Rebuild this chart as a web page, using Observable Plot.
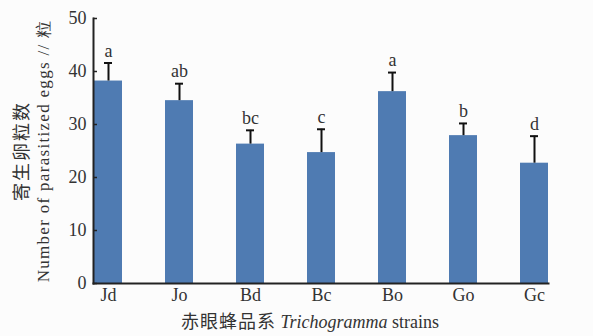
<!DOCTYPE html>
<html>
<head>
<meta charset="utf-8">
<script src="https://cdn.jsdelivr.net/npm/d3@7"></script>
<script src="https://cdn.jsdelivr.net/npm/@observablehq/plot@0.6"></script>
<style>
  body { margin: 0; background: #fcfcfc; }
  #caption {
    width: 593px; box-sizing: border-box; padding-left: 27px;
    text-align: center; line-height: 31px; height: 31px;
    font-family: "Liberation Serif", "Noto Sans CJK SC", serif;
    font-size: 18px; color: #333;
  }
  #caption .cn { font-family: "Noto Sans CJK SC"; font-size: 18px; letter-spacing: 1px; }
</style>
</head>
<body>
<div id="chart"></div>
<div id="caption"><span class="cn">赤眼蜂品系</span> <i>Trichogramma</i> strains</div>
<script>
const strains = ["Jd", "Jo", "Bd", "Bc", "Bo", "Go", "Gc"];
const means = [38.2, 34.5, 26.3, 24.7, 36.2, 27.9, 22.7];
const errors = [3.4, 3.2, 2.6, 4.4, 3.6, 2.3, 5.1];
const letters = ["a", "ab", "bc", "c", "a", "b", "d"];
const yTicks = [0, 10, 20, 30, 40, 50];
const yTitleCN = "寄生卵粒数";
const yTitleEN = "Number of parasitized eggs // 粒";

const data = strains.map((s, i) => ({
  strain: s, mean: means[i], upper: means[i] + errors[i], letter: letters[i]
}));

const chart = Plot.plot({
  width: 593,
  height: 305,
  marginLeft: 93,
  marginRight: 45,
  marginTop: 18,
  marginBottom: 22,
  style: { fontFamily: "Liberation Serif, serif", fontSize: "18px", background: "transparent", color: "#333" },
  x: { domain: strains, paddingInner: 0.606, paddingOuter: 0, label: null },
  y: { domain: [0, 50], ticks: yTicks, label: null },
  marks: [
    Plot.barY(data, { x: "strain", y: "mean", fill: "#4f7bb2" }),
    Plot.ruleX(data, { x: "strain", y1: "mean", y2: "upper", stroke: "#111", strokeWidth: 2 }),
    Plot.tickY(data, { x: "strain", y: "upper", stroke: "#111", strokeWidth: 2, insetLeft: 10, insetRight: 10 }),
    Plot.text(data, { x: "strain", y: "upper", text: "letter", dy: -12, fontSize: 18, fill: "#333" }),
    Plot.frame({ anchor: "left", stroke: "#222", strokeWidth: 2 }),
    Plot.frame({ anchor: "bottom", stroke: "#222", strokeWidth: 2 }),
    Plot.axisY({ ticks: yTicks, tickSize: -4, tickPadding: 11, strokeWidth: 1.5, stroke: "#222", fontSize: 18 }),
    Plot.axisX({ tickSize: 0, tickPadding: 5, fontSize: 18 }),
    Plot.text([yTitleCN], { text: d => d, frameAnchor: "left", textAnchor: "middle", dx: -71, rotate: -90, fontFamily: "Noto Sans CJK SC", fontSize: 18, fill: "#333" }),
    Plot.text([yTitleEN], { text: d => d, frameAnchor: "left", textAnchor: "middle", dx: -50, rotate: -90, fontSize: 17, fill: "#333" })
  ]
});
d3.select(chart).selectAll("text").filter(function () { return this.textContent === yTitleEN; })
  .attr("letter-spacing", "1.3px");
d3.select(chart).selectAll("text").filter(function () { return this.textContent === yTitleCN; })
  .attr("letter-spacing", "2px");
document.getElementById("chart").appendChild(chart);
</script>
</body>
</html>
